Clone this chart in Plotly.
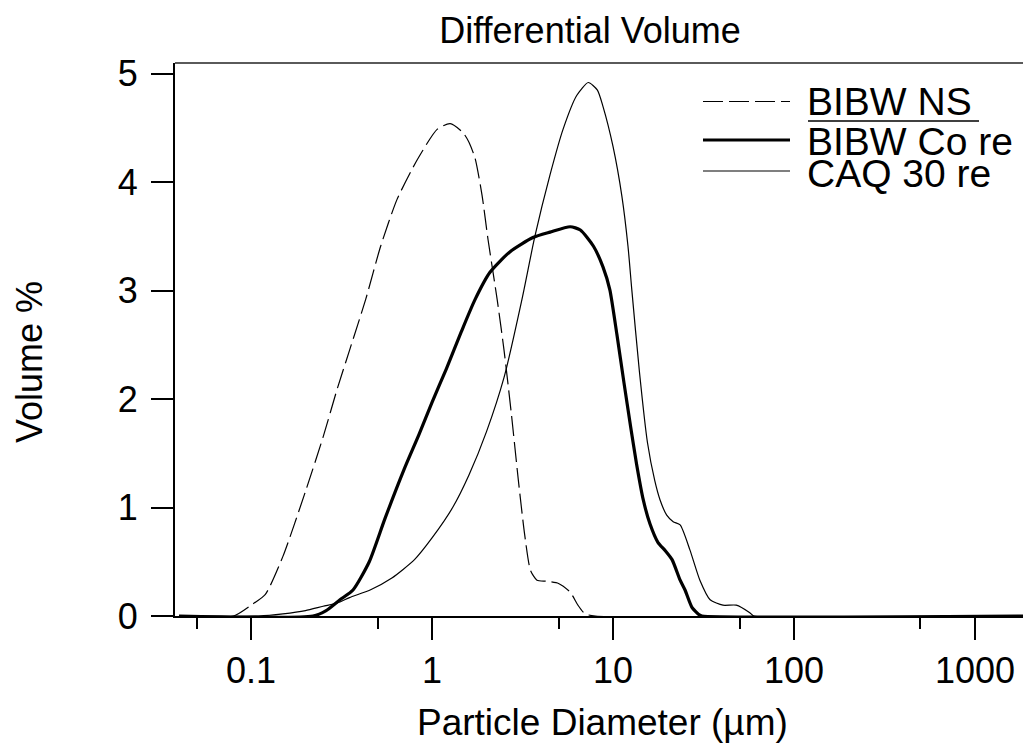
import math
import plotly.graph_objects as go

# ---------------- data ----------------
title_text = "Differential Volume"
x_title = "Particle Diameter (µm)"
y_title = "Volume %"
series_names = ["BIBW NS", "BIBW Co re", "CAQ 30 re"]

x_tick_vals = [0.1, 1, 10, 100, 1000]
x_tick_text = ["0.1", "1", "10", "100", "1000"]
x_minor_vals = [0.05, 0.5, 5, 50, 500]
y_tick_vals = [0, 1, 2, 3, 4, 5]

bibw_ns_d = [0.04, 0.08, 0.1, 0.12, 0.15, 0.2, 0.25, 0.3, 0.35, 0.43, 0.52, 0.64,
             0.83, 1.07, 1.26, 1.48, 1.6, 1.73, 1.89, 2.04, 2.29, 2.5, 2.75, 3.0, 3.25,
             3.5, 3.8, 4.3, 5.0, 5.8, 6.4, 7.0, 8.0, 2000]
bibw_ns_v = [0, 0, 0.1, 0.2, 0.55, 1.15, 1.65, 2.1, 2.45, 2.92, 3.41, 3.84,
             4.21, 4.49, 4.54, 4.46, 4.37, 4.22, 3.88, 3.47, 2.92, 2.45, 1.85, 1.25, 0.75,
             0.42, 0.33, 0.32, 0.3, 0.22, 0.1, 0.02, 0, 0]

bibw_co_d = [0.04, 0.22, 0.26, 0.31, 0.366, 0.45, 0.55, 0.7, 0.85, 1.0, 1.2, 1.45,
             1.73, 2.09, 2.7, 3.61, 4.49, 5.8, 6.6, 7.8, 8.8, 9.6, 10.5, 11.5, 12.5,
             13.5, 14.7, 16, 17.7, 19.5, 21.2, 23.5, 25, 27.3, 30, 31, 2000]
bibw_co_v = [0, 0, 0.05, 0.15, 0.24, 0.5, 0.9, 1.35, 1.68, 1.97, 2.28, 2.62,
             2.92, 3.17, 3.36, 3.49, 3.54, 3.59, 3.56, 3.41, 3.22, 3.01, 2.6, 2.15, 1.75,
             1.4, 1.07, 0.85, 0.68, 0.6, 0.52, 0.33, 0.24, 0.08, 0.01, 0, 0]

caq_d = [0.04, 0.11, 0.15, 0.2, 0.25, 0.3, 0.35, 0.455, 0.6, 0.8, 1.0, 1.3, 1.6,
         2.0, 2.5, 3.14, 3.7, 4.49, 5.3, 6.3, 7.3, 8.2, 8.8, 10, 11.2, 12.1, 12.7,
         14, 15.5, 17, 18.2, 19.8, 21.5, 23.5, 26.6, 30.2, 34.4, 40.5, 48, 57, 60, 2000]
caq_v = [0, 0, 0.02, 0.05, 0.09, 0.12, 0.17, 0.24, 0.35, 0.52, 0.72, 1.0, 1.3,
         1.7, 2.2, 2.92, 3.5, 4.07, 4.49, 4.8, 4.92, 4.85, 4.7, 4.33, 3.87, 3.41, 3.01,
         2.25, 1.6, 1.25, 1.07, 0.93, 0.87, 0.84, 0.61, 0.33, 0.15, 0.1, 0.1, 0.03, 0, 0]

# ---------------- layout geometry ----------------
OFF = 8                      # default page body margin
W, H = 1031 - OFF, 743 - OFF
L, R, T = 175 - OFF, 0, 63 - OFF
B = H - (616 - OFF)
PW, PH = W - L - R, H - T - B

def px(x_img):
    return (x_img - OFF - L) / PW

def py(y_img):
    return (H - B - (y_img - OFF)) / PH

FONT = "Liberation Sans, Arial, sans-serif"
FS = 36

fig = go.Figure()
styles = [
    dict(color="black", width=1.2, dash="20px,6px"),
    dict(color="black", width=3.2),
    dict(color="black", width=1.2),
]
for name, d, v, st in zip(series_names, [bibw_ns_d, bibw_co_d, caq_d],
                          [bibw_ns_v, bibw_co_v, caq_v], styles):
    fig.add_trace(go.Scatter(x=d, y=v, mode="lines", name=name,
                             line=dict(shape="spline", smoothing=0.6, **st),
                             showlegend=False))

fig.update_layout(
    width=W, height=H,
    margin=dict(l=L, r=R, t=T, b=B),
    paper_bgcolor="white", plot_bgcolor="white",
    font=dict(family=FONT, size=FS, color="black"),
    title=dict(text=title_text, x=(590 - OFF) / W, xref="container", xanchor="center",
               y=1 - (30 - OFF) / H, yref="container", yanchor="middle",
               font=dict(size=FS, family=FONT, color="black")),
    xaxis=dict(type="log", range=[math.log10(0.038), math.log10(2040)],
               showline=True, linecolor="black", linewidth=1.5,
               ticks="outside", ticklen=22, tickwidth=1.5, tickcolor="black",
               tickvals=x_tick_vals, ticktext=x_tick_text,
               minor=dict(tickvals=x_minor_vals, ticks="outside", ticklen=11,
                          tickwidth=1.5, tickcolor="black", showgrid=False),
               showgrid=False, zeroline=False,
               tickfont=dict(size=FS, family=FONT)),
    yaxis=dict(range=[0, 5.1], showline=True, linecolor="black", linewidth=2,
               ticks="outside", ticklen=22, tickwidth=1.5, tickcolor="black",
               tickvals=y_tick_vals, showgrid=False, zeroline=False,
               ticklabelstandoff=6,
               tickfont=dict(size=FS, family=FONT)),
    showlegend=False,
)

# top frame line
fig.add_shape(type="line", xref="paper", yref="paper", x0=0, x1=1, y0=1, y1=1,
              line=dict(color="#5a5a5a", width=2))

# axis titles
fig.add_annotation(text=x_title, xref="paper", yref="paper", x=px(602), y=py(722),
                   xanchor="center", yanchor="middle", showarrow=False,
                   font=dict(size=37, family=FONT, color="black"))
fig.add_annotation(text=y_title, xref="paper", yref="paper", x=px(30), y=py(362),
                   xanchor="center", yanchor="middle", textangle=-90, showarrow=False,
                   font=dict(size=FS, family=FONT, color="black"))

# manual legend
rows_y = [101.5, 140, 171]
text_y = [102, 141, 173]
for name, st, ly, ty in zip(series_names, styles, rows_y, text_y):
    fig.add_shape(type="line", xref="paper", yref="paper",
                  x0=px(703), x1=px(790), y0=py(ly), y1=py(ly),
                  line=st)
    fig.add_annotation(text=name, xref="paper", yref="paper", x=px(805), y=py(ty),
                       xanchor="left", yanchor="middle", showarrow=False,
                       font=dict(size=39, family=FONT, color="black"))
fig.add_shape(type="line", xref="paper", yref="paper",
              x0=px(808), x1=px(979), y0=py(121), y1=py(121),
              line=dict(color="black", width=1.5))

fig.write_html("out.html")
